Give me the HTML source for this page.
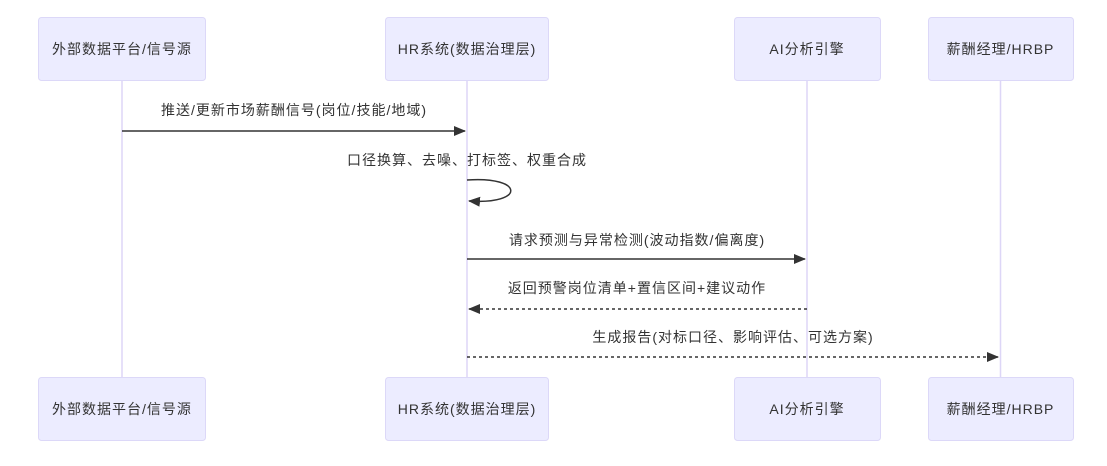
<!DOCTYPE html>
<html><head><meta charset="utf-8"><style>
body{margin:0;background:#fff;}
svg text{font-family:"Liberation Sans","Noto Sans CJK SC",sans-serif;font-size:14px;letter-spacing:1px;fill:#333;}
</style></head><body>
<svg width="1107" height="461" viewBox="0 0 1107 461" xmlns="http://www.w3.org/2000/svg">
<defs>
<marker id="ah" markerWidth="12" markerHeight="12" refX="11" refY="5" orient="auto" markerUnits="userSpaceOnUse"><path d="M0,0 L12,5 L0,10 z" fill="#333"/></marker>
</defs>
<g stroke="#ddd6f7" stroke-width="1.5">
<line x1="122" y1="80" x2="122" y2="377"/>
<line x1="467" y1="80" x2="467" y2="377"/>
<line x1="807" y1="80" x2="807" y2="377"/>
<line x1="1000.5" y1="80" x2="1000.5" y2="377"/>
</g>
<g fill="#ececff" stroke="#dcd8f8" stroke-width="1">
<rect x="38.5" y="17.5" width="167" height="63" rx="3"/>
<rect x="385.5" y="17.5" width="163" height="63" rx="3"/>
<rect x="734.5" y="17.5" width="146" height="63" rx="3"/>
<rect x="928.5" y="17.5" width="145" height="63" rx="3"/>
<rect x="38.5" y="377.5" width="167" height="63" rx="3"/>
<rect x="385.5" y="377.5" width="163" height="63" rx="3"/>
<rect x="734.5" y="377.5" width="146" height="63" rx="3"/>
<rect x="928.5" y="377.5" width="145" height="63" rx="3"/>
</g>
<g text-anchor="middle" dominant-baseline="central">
<text x="122" y="49">外部数据平台/信号源</text>
<text x="467" y="49">HR系统(数据治理层)</text>
<text x="807" y="49">AI分析引擎</text>
<text x="1000.5" y="49">薪酬经理/HRBP</text>
<text x="122" y="409">外部数据平台/信号源</text>
<text x="467" y="409">HR系统(数据治理层)</text>
<text x="807" y="409">AI分析引擎</text>
<text x="1000.5" y="409">薪酬经理/HRBP</text>
<text x="294" y="110">推送/更新市场薪酬信号(岗位/技能/地域)</text>
<text x="467" y="160">口径换算、去噪、打标签、权重合成</text>
<text x="637" y="240">请求预测与异常检测(波动指数/偏离度)</text>
<text x="637" y="288">返回预警岗位清单+置信区间+建议动作</text>
<text x="733" y="337">生成报告(对标口径、影响评估、可选方案)</text>
</g>
<g stroke="#333" stroke-width="1.5" fill="none">
<line x1="122" y1="131" x2="465" y2="131" marker-end="url(#ah)"/>
<path d="M467,180 C525,176 525,205 469,201" marker-end="url(#ah)"/>
<line x1="467" y1="259" x2="805" y2="259" marker-end="url(#ah)"/>
<line x1="807" y1="309" x2="469" y2="309" stroke-dasharray="3,3" marker-end="url(#ah)"/>
<line x1="467" y1="357" x2="998" y2="357" stroke-dasharray="3,3" marker-end="url(#ah)"/>
</g>
</svg>
</body></html>
